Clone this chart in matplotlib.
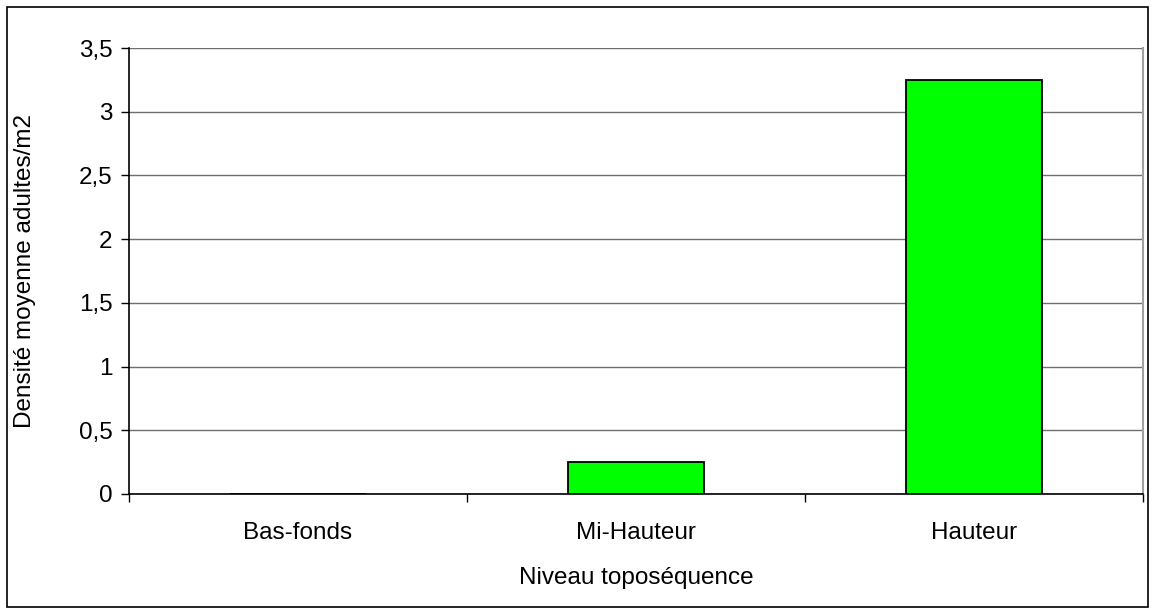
import matplotlib
matplotlib.use("Agg")
import matplotlib.pyplot as plt
from matplotlib.patches import Rectangle
from matplotlib.ticker import FuncFormatter, FixedLocator

categories = ["Bas-fonds", "Mi-Hauteur", "Hauteur"]
values = [0.0, 0.25, 3.25]
yticks = [0, 0.5, 1, 1.5, 2, 2.5, 3, 3.5]

plt.rcParams['font.family'] = ['Liberation Sans', 'DejaVu Sans']
FS = 17.5
W, H = 1155, 614
fig = plt.figure(figsize=(W / 100, H / 100), dpi=100)
fig.patch.set_facecolor('white')
fig.add_artist(Rectangle((7 / W, 1 - 607 / H), (1148 - 7) / W, (607 - 7) / H,
                         transform=fig.transFigure, fill=False, edgecolor='black', linewidth=1.2))

ax = fig.add_axes([129 / W, 1 - 494 / H, (1143 - 129) / W, (494 - 48) / H])
x = range(len(categories))
ax.bar(x, values, width=0.4, color='#00FF00', edgecolor='black', linewidth=1.3, zorder=3)
ax.set_xlim(-0.5, 2.5)
ax.set_ylim(0, 3.5)
ax.yaxis.set_major_locator(FixedLocator(yticks))
ax.yaxis.set_major_formatter(FuncFormatter(lambda v, p: ('%g' % v).replace('.', ',')))
ax.grid(axis='y', color='#707070', linewidth=1.0, zorder=0)
ax.set_axisbelow(True)

ax.set_xticks([0, 1, 2])
ax.set_xticklabels(categories)
ax.xaxis.set_minor_locator(FixedLocator([-0.5, 0.5, 1.5, 2.5]))
ax.tick_params(axis='x', which='major', length=0, pad=20, labelsize=FS)
ax.tick_params(axis='x', which='minor', length=6, width=1, color='black')
ax.tick_params(axis='y', length=6, width=1, labelsize=FS, pad=6)

for s in ['left', 'bottom']:
    ax.spines[s].set_color('black')
    ax.spines[s].set_linewidth(1.2)
ax.spines['top'].set_visible(False)
ax.spines['right'].set_color('#a0a0a0')
ax.spines['right'].set_linewidth(1.5)

ax.set_xlabel('Niveau toposéquence', fontsize=FS, labelpad=17)
ax.set_ylabel('Densité moyenne adultes/m2', fontsize=FS, labelpad=31)

fig.savefig('out.png', dpi=100)
